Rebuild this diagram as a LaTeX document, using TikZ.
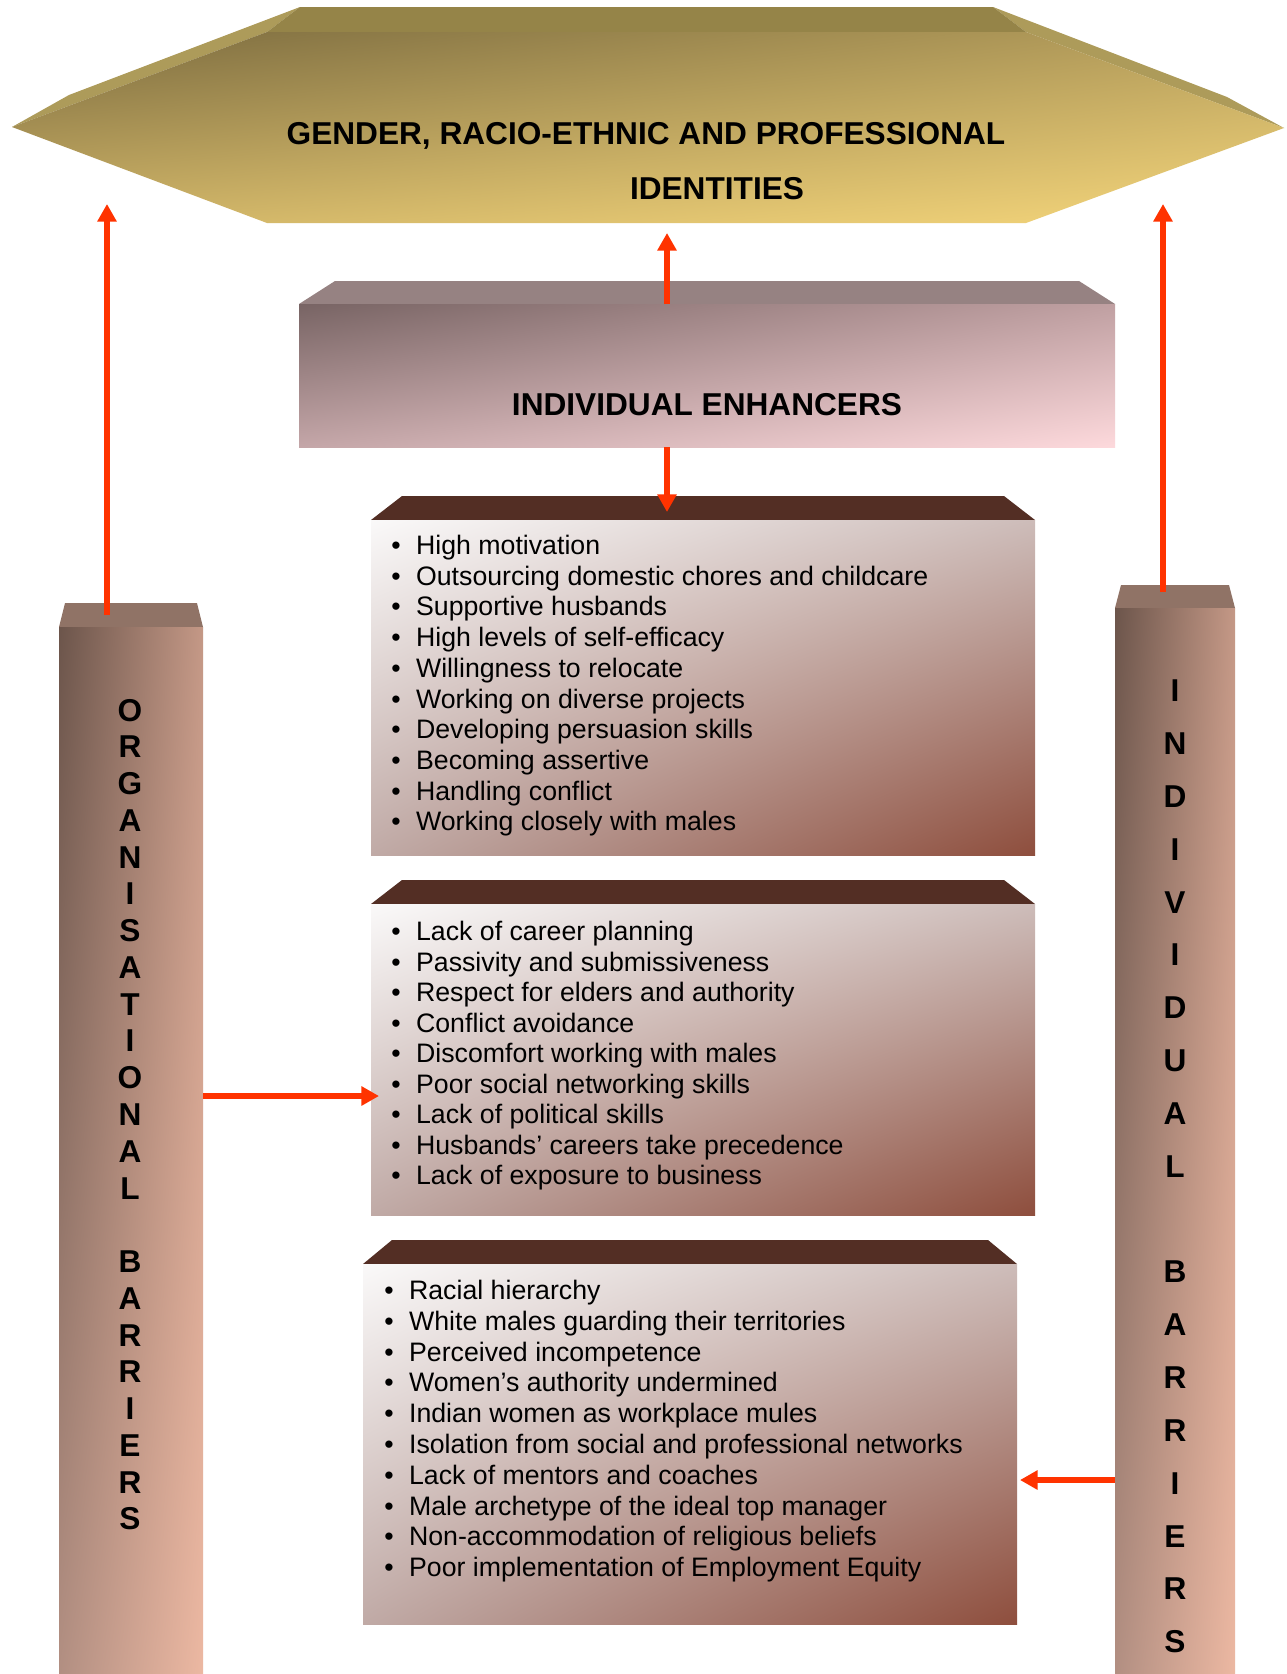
\documentclass[tikz,border=0pt]{standalone}
\usepackage{fontspec}
\setmainfont{Liberation Sans}
\usetikzlibrary{arrows.meta,shadings}

\definecolor{arrowred}{HTML}{FF3300}
\definecolor{hexTop}{HTML}{958448}
\definecolor{hexSide}{HTML}{AD9B5A}
\definecolor{hexUL}{HTML}{7B6B3F}
\definecolor{hexUR}{HTML}{B9A15D}
\definecolor{hexLL}{HTML}{CDB266}
\definecolor{hexLR}{HTML}{F5D67B}
\definecolor{enhTop}{HTML}{968282}
\definecolor{enhUL}{HTML}{786464}
\definecolor{enhUR}{HTML}{C0A0A2}
\definecolor{enhLL}{HTML}{C4A6A8}
\definecolor{enhLR}{HTML}{FDD9DC}
\definecolor{boxTop}{HTML}{532E24}
\definecolor{boxUL}{HTML}{FAF9F9}
\definecolor{boxUR}{HTML}{CDBCB9}
\definecolor{boxLL}{HTML}{C0AAA6}
\definecolor{boxLR}{HTML}{8E4E3D}
\definecolor{pilTop}{HTML}{907366}
\definecolor{pilUL}{HTML}{6C554B}
\definecolor{pilUR}{HTML}{C49886}
\definecolor{pilLL}{HTML}{B28F82}
\definecolor{pilLR}{HTML}{ECB8A2}

\tikzset{
  headtext/.style={font=\fontsize{18}{21}\selectfont\bfseries, inner sep=0pt,
    text height=12.9pt, text depth=0pt},
  pillarletter/.style={headtext},
  itemtext/.style={anchor=west, font=\fontsize{15.2}{18}\selectfont, inner sep=0pt,
    text height=10.9pt, text depth=0pt},
  flow/.style={draw=arrowred, line width=3.2pt, -{Triangle[length=10pt,width=10.5pt]}},
  hexshade/.style={shading=bilinear interpolation, upper left=hexUL, upper right=hexUR,
    lower left=hexLL, lower right=hexLR},
  enhshade/.style={shading=bilinear interpolation, upper left=enhUL, upper right=enhUR,
    lower left=enhLL, lower right=enhLR},
  listshade/.style={shading=bilinear interpolation, upper left=boxUL, upper right=boxUR,
    lower left=boxLL, lower right=boxLR},
  pillarshade/.style={shading=bilinear interpolation, upper left=pilUL, upper right=pilUR,
    lower left=pilLL, lower right=pilLR},
}

\begin{document}
\begin{tikzpicture}[x=0.02cm, y=-0.02cm]

\fill[white] (0,0) rectangle (1287,1674);
\useasboundingbox (0,0) rectangle (1287,1674);

% Helper: a slab with a top face: left, right, back top, front top, bottom, inset, top colour, front shading
\newcommand{\slab}[8]{%
  \fill[#7] (#1+#6,#3) -- (#2-#6,#3) -- (#2,#4) -- (#1,#4) -- cycle;
  \shade[#8] (#1,#4) rectangle (#2,#5);
}

% Helper: one bullet line: box name, line number, text (uses \bx, \by, \bs)
\newcommand{\bul}[3]{%
  \node[itemtext] (#1-#2) at (\bx, \by+#2*\bs) {\makebox[14.1pt][l]{\textbullet}#3};
}

% --- identities (top hexagon) ---
\fill[hexSide] (12,127) -- (69,95) -- (300,7) -- (267,32) -- cycle;
\fill[hexSide] (1284,128) -- (1227,97) -- (993,7) -- (1026,32) -- cycle;
\fill[hexTop] (300,7) -- (993,7) -- (1026,32) -- (267,32) -- cycle;
\shade[hexshade]
  (12,127) -- (267,32) -- (1026,32) -- (1284,128) -- (1026,223) -- (267,223) -- cycle;
\node[headtext] (id1) at (646,133) {GENDER, RACIO-ETHNIC AND PROFESSIONAL};
\node[headtext] (id2) at (717,188) {IDENTITIES};

% --- individual enhancers ---
\slab{299}{1115}{281}{304}{447}{36}{enhTop}{enhshade}
\node[headtext] (enh) at (707,404) {INDIVIDUAL ENHANCERS};

% --- list boxes ---
\slab{371}{1035}{496}{520}{855}{31}{boxTop}{listshade}
\slab{371}{1035}{880}{904}{1215}{31}{boxTop}{listshade}
\slab{363}{1017}{1240}{1264}{1624}{29}{boxTop}{listshade}

% --- pillars ---
\slab{59}{203}{603}{627}{1674}{6}{pilTop}{pillarshade}
\slab{1115}{1235}{585}{608}{1674}{6}{pilTop}{pillarshade}

\foreach \ch [count=\i from 0] in {O,R,G,A,N,I,S,A,T,I,O,N,A,L}
  \node[pillarletter] (org\i) at (130,709.7+\i*36.77) {\ch};
\foreach \ch [count=\i from 15] in {B,A,R,R,I,E,R,S}
  \node[pillarletter] (obar\i) at (130,709.7+\i*36.77) {\ch};
\foreach \ch [count=\i from 0] in {I,N,D,I,V,I,D,U,A,L}
  \node[pillarletter] (ind\i) at (1175,690.5+\i*52.83) {\ch};
\foreach \ch [count=\i from 11] in {B,A,R,R,I,E,R,S}
  \node[pillarletter] (ibar\i) at (1175,690.5+\i*52.83) {\ch};

% Box 1
\def\bx{391}\def\by{545}\def\bs{30.7}
\bul{b1}{0}{High motivation}
\bul{b1}{1}{Outsourcing domestic chores and childcare}
\bul{b1}{2}{Supportive husbands}
\bul{b1}{3}{High levels of self-efficacy}
\bul{b1}{4}{Willingness to relocate}
\bul{b1}{5}{Working on diverse projects}
\bul{b1}{6}{Developing persuasion skills}
\bul{b1}{7}{Becoming assertive}
\bul{b1}{8}{Handling conflict}
\bul{b1}{9}{Working closely with males}

% Box 2
\def\bx{391}\def\by{931}\def\bs{30.5}
\bul{b2}{0}{Lack of career planning}
\bul{b2}{1}{Passivity and submissiveness}
\bul{b2}{2}{Respect for elders and authority}
\bul{b2}{3}{Conflict avoidance}
\bul{b2}{4}{Discomfort working with males}
\bul{b2}{5}{Poor social networking skills}
\bul{b2}{6}{Lack of political skills}
\bul{b2}{7}{Husbands’ careers take precedence}
\bul{b2}{8}{Lack of exposure to business}

% Box 3
\def\bx{384}\def\by{1290}\def\bs{30.78}
\bul{b3}{0}{Racial hierarchy}
\bul{b3}{1}{White males guarding their territories}
\bul{b3}{2}{Perceived incompetence}
\bul{b3}{3}{Women’s authority undermined}
\bul{b3}{4}{Indian women as workplace mules}
\bul{b3}{5}{Isolation from social and professional networks}
\bul{b3}{6}{Lack of mentors and coaches}
\bul{b3}{7}{Male archetype of the ideal top manager}
\bul{b3}{8}{Non-accommodation of religious beliefs}
\bul{b3}{9}{Poor implementation of Employment Equity}

% --- arrows ---
\coordinate (hexL) at (107,204);
\coordinate (pilLtop) at (107,615);
\coordinate (hexR) at (1163,204);
\coordinate (pilRtop) at (1163,592);
\coordinate (hexB) at (667,233);
\coordinate (enhT) at (667,304);
\coordinate (enhB) at (667,447);
\coordinate (box1T) at (667,512);
\coordinate (pilLside) at (203,1096);
\coordinate (box2L) at (379,1096);
\coordinate (pilRside) at (1115,1480);
\coordinate (box3R) at (1020,1480);

\draw[flow] (pilLtop) -- (hexL);
\draw[flow] (pilRtop) -- (hexR);
\draw[flow] (enhT) -- (hexB);
\draw[flow] (enhB) -- (box1T);
\draw[flow] (pilLside) -- (box2L);
\draw[flow] (pilRside) -- (box3R);

\end{tikzpicture}
\end{document}
